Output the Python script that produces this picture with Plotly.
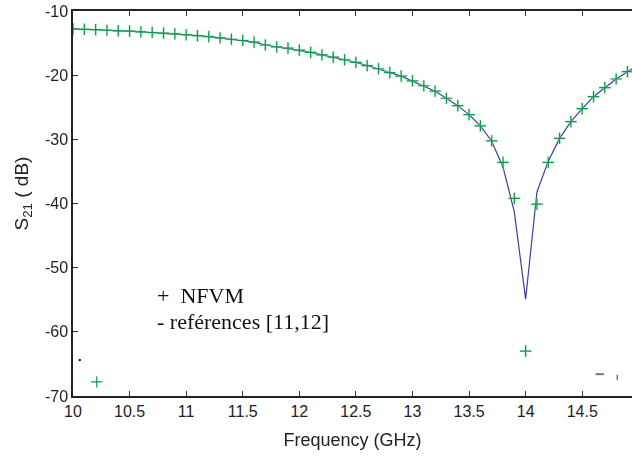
import plotly.graph_objects as go

freq = [10.0, 10.1, 10.2, 10.3, 10.4, 10.5, 10.6, 10.7, 10.8, 10.9,
        11.0, 11.1, 11.2, 11.3, 11.4, 11.5, 11.6, 11.7, 11.8, 11.9,
        12.0, 12.1, 12.2, 12.3, 12.4, 12.5, 12.6, 12.7, 12.8, 12.9,
        13.0, 13.1, 13.2, 13.3, 13.4, 13.5, 13.6, 13.7, 13.8, 13.9,
        14.0, 14.1, 14.2, 14.3, 14.4, 14.5, 14.6, 14.7, 14.8, 14.9]

nfvm = [-12.8, -12.85, -12.9, -13.0, -13.1, -13.15, -13.25, -13.35, -13.45, -13.55,
        -13.7, -13.85, -14.0, -14.2, -14.4, -14.6, -14.85, -15.3, -15.6, -15.8,
        -16.1, -16.45, -16.85, -17.2, -17.6, -18.0, -18.5, -19.0, -19.6, -20.15,
        -20.9, -21.65, -22.5, -23.6, -24.75, -26.15, -27.9, -30.25, -33.6, -39.2,
        -63.0, -40.1, -33.6, -29.85, -27.25, -25.2, -23.35, -21.95, -20.6, -19.45]

ref_freq = freq + [15.0]
ref = [-12.8, -12.85, -12.9, -13.0, -13.1, -13.15, -13.25, -13.35, -13.45, -13.55,
       -13.7, -13.85, -14.0, -14.2, -14.4, -14.6, -14.85, -15.3, -15.6, -15.8,
       -16.1, -16.45, -16.85, -17.2, -17.6, -18.0, -18.5, -19.0, -19.6, -20.15,
       -20.9, -21.65, -22.5, -23.6, -24.75, -26.15, -27.9, -30.3, -34.3, -41.3,
       -54.9, -38.2, -33.4, -29.85, -27.25, -25.2, -23.35, -21.95, -20.6, -19.45,
       -18.4]

# stray marks visible in the original figure
stray_plus_x, stray_plus_y = [10.21], [-67.8]
stray_dot_x, stray_dot_y = [10.06], [-64.4]
stray_dash_x, stray_dash_y = [14.655], [-66.6]
stray_tick_x, stray_tick_y = [14.81], [-67.1]

xticks = [10, 10.5, 11, 11.5, 12, 12.5, 13, 13.5, 14, 14.5]
xticklabels = ["10", "10.5", "11", "11.5", "12", "12.5", "13", "13.5", "14", "14.5"]
yticks = [-10, -20, -30, -40, -50, -60, -70]
yticklabels = ["-10", "-20", "-30", "-40", "-50", "-60", "-70"]

L, T, B = 72.5, 11, 62
W, H = 632, 458

fig = go.Figure()
fig.add_trace(go.Scatter(x=ref_freq, y=ref, mode="lines",
                         line=dict(color="#3b40a0", width=1.2), showlegend=False))
fig.add_trace(go.Scatter(x=freq, y=nfvm, mode="markers",
                         marker=dict(symbol="cross-thin", size=9,
                                     line=dict(color="#a6e0bb", width=2.5)),
                         showlegend=False, opacity=0.5))
fig.add_trace(go.Scatter(x=freq, y=nfvm, mode="markers",
                         marker=dict(symbol="cross-thin", size=8,
                                     line=dict(color="#0a9a4a", width=1.2)),
                         showlegend=False))
fig.add_trace(go.Scatter(x=stray_plus_x, y=stray_plus_y, mode="markers",
                         marker=dict(symbol="cross-thin", size=8,
                                     line=dict(color="#0a9a4a", width=1.2)),
                         showlegend=False))
fig.add_trace(go.Scatter(x=stray_dot_x, y=stray_dot_y, mode="markers",
                         marker=dict(symbol="square", size=2, color="#000000"),
                         showlegend=False))
fig.add_trace(go.Scatter(x=stray_dash_x, y=stray_dash_y, mode="markers",
                         marker=dict(symbol="line-ew", size=6,
                                     line=dict(color="#777777", width=2)),
                         showlegend=False))
fig.add_trace(go.Scatter(x=stray_tick_x, y=stray_tick_y, mode="markers",
                         marker=dict(symbol="line-ns", size=4,
                                     line=dict(color="#777777", width=1.5)),
                         showlegend=False))

pw, ph = W - L, H - T - B


def px2paper(px, py):
    return (px - L) / pw, 1 - (py - T) / ph


ann = []
for text, px, py, angle, fnt, anchor in [
    ("S<sub>21</sub> ( dB)", 22, 194, -90,
     dict(family="Liberation Sans, Arial, sans-serif", size=19, color="#222222"), "center"),
    ("+  NFVM", 155, 295, 0,
     dict(family="Liberation Serif, Times New Roman, serif", size=22, color="#111111"), "left"),
    ("- reférences [11,12]", 155, 321, 0,
     dict(family="Liberation Serif, Times New Roman, serif", size=22, color="#111111"), "left"),
]:
    ax, ay = px2paper(px, py)
    ann.append(dict(text=text, x=ax, y=ay, xref="paper", yref="paper",
                    showarrow=False, textangle=angle, font=fnt, xanchor=anchor,
                    yanchor="middle"))

fig.update_layout(
    width=W, height=H,
    margin=dict(l=L, r=0, t=T, b=B, autoexpand=False),
    paper_bgcolor="white", plot_bgcolor="white",
    font=dict(family="Liberation Sans, Arial, sans-serif", size=16, color="#222222"),
    xaxis=dict(range=[10, 14.94], tickvals=xticks, ticktext=xticklabels,
               ticks="inside", ticklen=5, tickcolor="#333333",
               showline=True, linecolor="#222222", linewidth=1.5, mirror="ticks",
               showgrid=False, zeroline=False, automargin=False,
               title=dict(text="Frequency (GHz)", font=dict(size=18), standoff=14)),
    yaxis=dict(range=[-70, -10], tickvals=yticks, ticktext=yticklabels,
               ticks="inside", ticklen=5, tickcolor="#333333",
               showline=True, linecolor="#222222", linewidth=1.5,
               showgrid=False, zeroline=False, automargin=False),
    annotations=ann,
)

fig.write_html("out.html", config={"displayModeBar": False},
               post_script="document.body.style.margin='0';document.body.style.overflow='hidden';")
